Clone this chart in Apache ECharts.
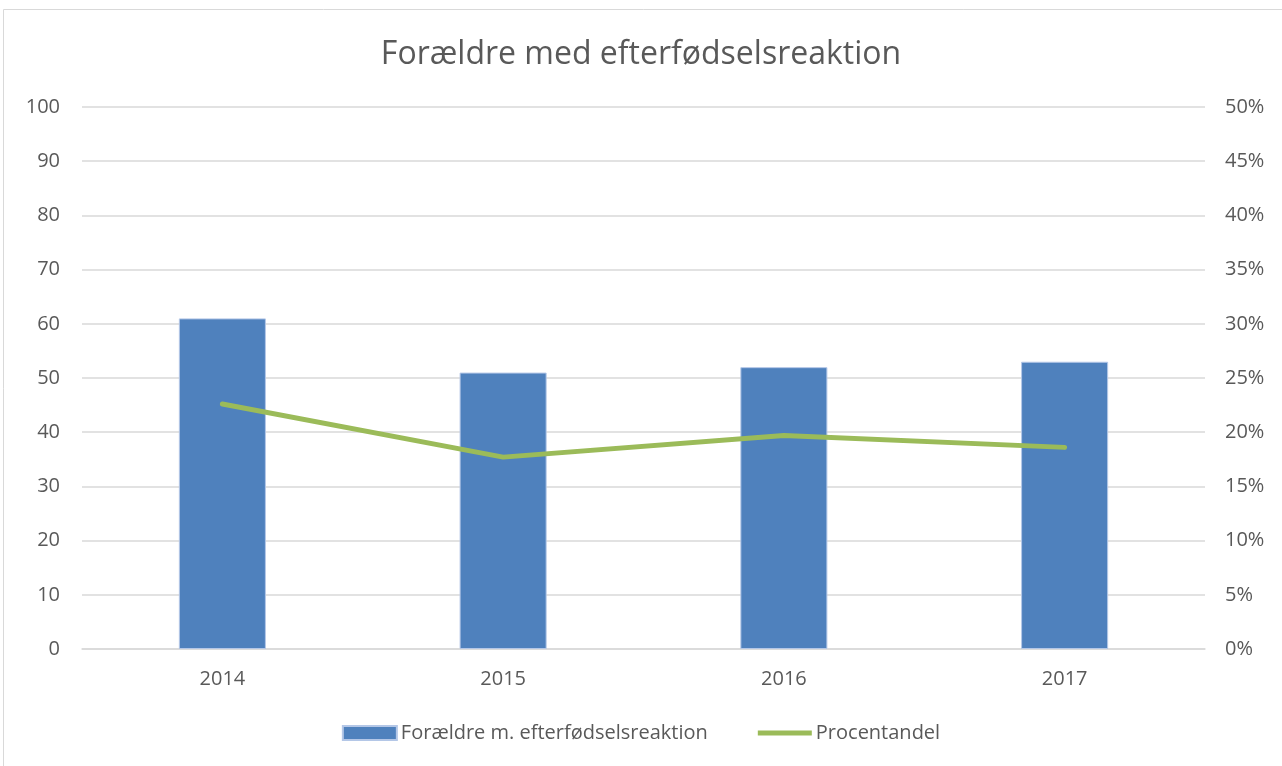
<!DOCTYPE html>
<html><head><meta charset="utf-8">
<script src="https://cdn.jsdelivr.net/npm/echarts@6/dist/echarts.min.js"></script>
<style>html,body{margin:0;padding:0;background:#fff}#c{width:1282px;height:766px}</style>
</head><body><div id="c"></div>
<script>
const title = 'Forældre med efterfødselsreaktion';
const categories = ['2014', '2015', '2016', '2017'];
const countName = 'Forældre m. efterfødselsreaktion';
const counts = [61, 51, 52, 53];
const pctName = 'Procentandel';
const percents = [22.6, 17.7, 19.7, 18.6];
const leftTicks = [0, 10, 20, 30, 40, 50, 60, 70, 80, 90, 100];
const rightTicks = [0, 5, 10, 15, 20, 25, 30, 35, 40, 45, 50];

const chart = echarts.init(document.getElementById('c'));
const font = 'Open Sans, Liberation Sans, Arial, sans-serif';
chart.setOption({
  animation: false,
  backgroundColor: '#fff',
  graphic: [{type:'rect', shape:{x:3.5,y:9.5,width:1290,height:770}, style:{fill:'none',stroke:'#d9d9d9',lineWidth:1}}],
  title: {text: title, left: 'center', top: 34, textStyle:{fontFamily:font, fontSize:32, fontWeight:'normal', color:'#595959'}},
  legend: {bottom: 18, left:'center', itemGap: 50, itemWidth: 54, itemHeight: 14, textStyle:{fontFamily:font, fontSize:20, color:'#595959', padding:[0,0,0,-1]},
    data:[{name:countName, icon:'rect'}, {name:pctName, icon:'path://M0,0 L54,0 L54,5 L0,5 Z'}]},
  grid: {left: 82, right: 77, top: 107, bottom: 117},
  xAxis: {type:'category', data: categories, axisTick:{show:false}, axisLine:{lineStyle:{color:'#d9d9d9', width:1.5}},
    axisLabel:{fontFamily:font, fontSize:20, color:'#595959', margin:20}},
  yAxis: [
    {type:'value', min:leftTicks[0], max:leftTicks[leftTicks.length-1], interval:10, axisLine:{show:false}, axisTick:{show:false},
      splitLine:{lineStyle:{color:'#d9d9d9', width:1.5}}, axisLabel:{fontFamily:font, fontSize:20, color:'#595959', margin:22}},
    {type:'value', min:rightTicks[0], max:rightTicks[rightTicks.length-1], interval:5, axisLine:{show:false}, axisTick:{show:false},
      splitLine:{show:false}, axisLabel:{fontFamily:font, fontSize:20, color:'#595959', margin:20, formatter:'{value}%'}}
  ],
  series: [
    {name: countName, type:'bar', data: counts, barWidth:'31%', itemStyle:{color:'#4F81BD', borderColor:'#b4c7e7', borderWidth:1}},
    {name: pctName, type:'line', yAxisIndex:1, data: percents, symbol:'none', lineStyle:{color:'#9BBB59', width:5, cap:'round'}, itemStyle:{color:'#9BBB59'}}
  ]
});
</script></body></html>
